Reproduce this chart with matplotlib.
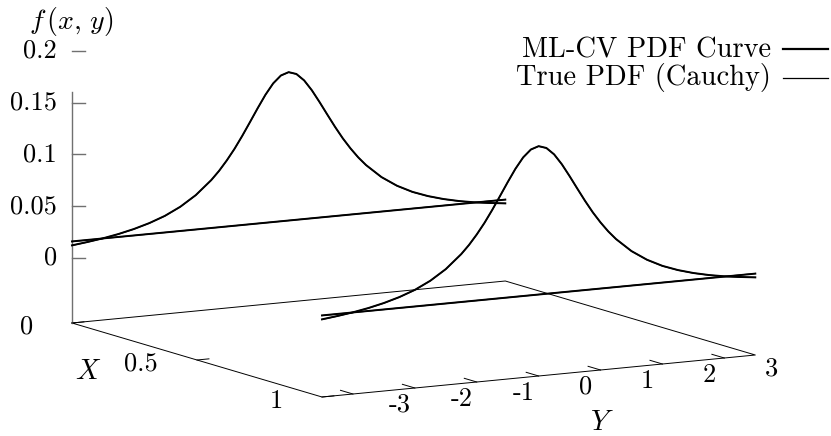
import numpy as np
import matplotlib
matplotlib.use("Agg")
import matplotlib.pyplot as plt

plt.rcParams['font.family'] = 'serif'
plt.rcParams['font.serif'] = ['cmr10']
plt.rcParams['mathtext.fontset'] = 'cm'

## values
x_slices = [0.0, 1.0]
y_pts = [-3.5, -3.25, -3.0, -2.75, -2.5, -2.25, -2.0, -1.75, -1.5, -1.25, -1.125,
         -1.0, -0.875, -0.75, -0.625, -0.5, -0.375, -0.25, -0.125, 0.0,
         0.125, 0.25, 0.375, 0.5, 0.625, 0.75, 0.875, 1.0,
         1.125, 1.25, 1.5, 1.75, 2.0, 2.25, 2.5, 2.75, 3.0, 3.25, 3.5]
pdf_true = [0.0120, 0.0138, 0.0159, 0.0186, 0.0220, 0.0263, 0.0318, 0.0392, 0.0490, 0.0621, 0.0702,
            0.0796, 0.0901, 0.1019, 0.1145, 0.1273, 0.1395, 0.1498, 0.1567, 0.1592,
            0.1567, 0.1498, 0.1395, 0.1273, 0.1145, 0.1019, 0.0901, 0.0796,
            0.0702, 0.0621, 0.0490, 0.0392, 0.0318, 0.0263, 0.0220, 0.0186, 0.0159, 0.0138, 0.0120]
pdf_mlcv = [0.0121, 0.0139, 0.0160, 0.0187, 0.0221, 0.0264, 0.0319, 0.0393, 0.0491, 0.0622, 0.0703,
            0.0797, 0.0902, 0.1020, 0.1146, 0.1274, 0.1396, 0.1499, 0.1568, 0.1593,
            0.1568, 0.1499, 0.1396, 0.1274, 0.1146, 0.1020, 0.0902, 0.0797,
            0.0703, 0.0622, 0.0491, 0.0393, 0.0319, 0.0264, 0.0221, 0.0187, 0.0160, 0.0139, 0.0121]
## straight return segment of each curve (Y from 3.5 back to -3.5)
close_true = [0.0158, 0.0158]
close_mlcv = [0.0157, 0.0159]

x_ticks = [0.0, 0.5, 1.0]
x_tick_labels = ['0', '0.5', '1']
y_ticks = [-3, -2, -1, 0, 1, 2, 3]
y_tick_labels = ['-3', '-2', '-1', '0', '1', '2', '3']
z_ticks = [0.0, 0.05, 0.1, 0.15, 0.2]
z_tick_labels = ['0', '0.05', '0.1', '0.15', '0.2']

x_range = (0.0, 1.0)
y_range = (-3.5, 3.5)
z_floor = -0.063
z_top = 0.16

## view: pixel position of the (xmin, ymin, z_floor) corner and screen step per unit
W, H = 831, 436
origin = (72.0, 323.0)
ex = (250.0, 74.0)
ey = (61.9, -6.0)
ez = (0.0, -1034.0)


def proj(x, y, z):
    x = np.asarray(x, float) - x_range[0]
    y = np.asarray(y, float) - y_range[0]
    z = np.asarray(z, float) - z_floor
    px = origin[0] + x * ex[0] + y * ey[0] + z * ez[0]
    py = origin[1] + x * ex[1] + y * ey[1] + z * ez[1]
    return px, py


fig = plt.figure(figsize=(W / 100, H / 100), dpi=100)
ax = fig.add_axes([0, 0, 1, 1])
ax.set_xlim(0, W)
ax.set_ylim(H, 0)
ax.axis('off')

fs = 19
ink = 'black'
axis_grey = '#707070'

## base plane
bx = [x_range[0], x_range[1], x_range[1], x_range[0], x_range[0]]
by = [y_range[0], y_range[0], y_range[1], y_range[1], y_range[0]]
px, py = proj(bx, by, [z_floor] * 5)
ax.plot(px, py, color=ink, lw=0.7)

## z axis
px, py = proj([0, 0], [y_range[0]] * 2, [z_floor, z_top])
ax.plot(px, py, color=axis_grey, lw=1.0)
for zt, lab in zip(z_ticks, z_tick_labels):
    px, py = proj(0, y_range[0], zt)
    ax.plot([px, px + 13], [py, py], color=axis_grey, lw=1.0)
    ax.text(px - 15, py, lab, ha='right', va='center', fontsize=fs)

## x ticks (along the left edge)
uy = np.array(ey) / np.hypot(*ey)
for xt, lab in zip(x_ticks, x_tick_labels):
    px, py = proj(xt, y_range[0], z_floor)
    ax.plot([px, px + 12 * uy[0]], [py, py + 12 * uy[1]], color=ink, lw=0.7)
    ax.text(px - 39, py + 4, lab, ha='right', va='center', fontsize=fs)

## y ticks (along the front edge)
ux = np.array(ex) / np.hypot(*ex)
for yt, lab in zip(y_ticks, y_tick_labels):
    px, py = proj(x_range[1], yt, z_floor)
    ax.plot([px, px - 13 * ux[0]], [py, py - 13 * ux[1]], color=ink, lw=0.7)
    ax.text(px + 47, py + 11, lab, ha='center', va='center', fontsize=fs)

## axis titles
ax.text(71, 22, r'$f\,(x,\,y)$', ha='center', va='center', fontsize=20)
ax.text(88, 372, r'$X$', ha='center', va='center', fontsize=20.5)
ax.text(602, 423, r'$Y$', ha='center', va='center', fontsize=20.5)

## curves, one per X slice
for xs in x_slices:
    n = len(y_pts)
    px, py = proj([xs] * n, y_pts, pdf_true)
    ax.plot(px, py, color=ink, lw=0.9)
    px, py = proj([xs] * 2, [y_range[1], y_range[0]], close_true)
    ax.plot(px, py, color=ink, lw=0.9)
    px, py = proj([xs] * n, y_pts, pdf_mlcv)
    ax.plot(px, py, color=ink, lw=1.4)
    px, py = proj([xs] * 2, [y_range[1], y_range[0]], close_mlcv)
    ax.plot(px, py, color=ink, lw=1.4)

## key
ax.text(771, 50, 'ML-CV PDF Curve', ha='right', va='center', fontsize=20.5)
ax.plot([783, 828], [49, 49], color=ink, lw=1.6)
ax.text(771, 77, 'True PDF (Cauchy)', ha='right', va='center', fontsize=20.5)
ax.plot([783, 828], [78, 78], color=ink, lw=0.9)

fig.savefig('out.png', dpi=100)
